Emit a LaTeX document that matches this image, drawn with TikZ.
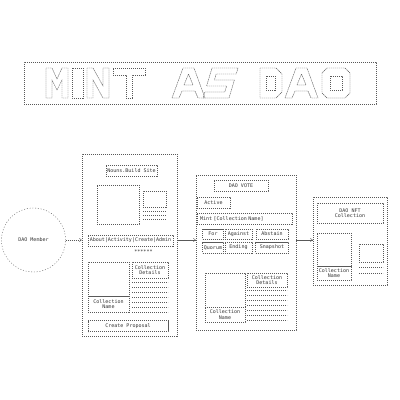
\documentclass[tikz,border=0pt]{standalone}
\usepackage{fontspec}
\newfontfamily\asciifont{DejaVu Sans Mono}
\usepackage{tikz}
\usetikzlibrary{arrows.meta}

\begin{document}
\begin{tikzpicture}[x=1pt,y=-1pt,
ascii/.style={draw=black!65,line width=0.4pt,dash pattern=on 1.4pt off 0.6pt},
box/.style 2 args={ascii,rectangle,inner sep=0pt,minimum width=#1,minimum height=#2,
  font=\asciifont\fontsize{5}{5.6}\selectfont,text=black!80,align=center},
link/.style={ascii,-{Straight Barb[length=2.2pt,width=3.5pt]}}]
\useasboundingbox (0,0) rectangle (400,400);

% title banner
\node[box={352}{42}] (banner) at (200,83) {};
\begin{scope}[shift={(46,68)}]
\draw[ascii] (0,0) -- (6,0) -- (11,11) -- (16,0) -- (22,0) -- (22,30) -- (16,30) -- (16,12)
  -- (11,22) -- (6,12) -- (6,30) -- (0,30) -- cycle;
\end{scope}
\begin{scope}[shift={(72,68)}]
\draw[ascii] (0,0) rectangle (11,30);
\end{scope}
\begin{scope}[shift={(87,68)}]
\draw[ascii] (0,0) -- (6,0) -- (16,18) -- (16,0) -- (22,0) -- (22,30) -- (16,30) -- (6,12)
  -- (6,30) -- (0,30) -- cycle;
\end{scope}
\begin{scope}[shift={(113,68)}]
\draw[ascii] (0,0) -- (32,0) -- (32,7) -- (19,7) -- (19,30) -- (13,30) -- (13,7) -- (0,7) -- cycle;
\end{scope}
\foreach \ax in {172,285}{
\begin{scope}[shift={(\ax,68)}]
\draw[ascii] (0,30) -- (11,0) -- (22,0) -- (33,30) -- (26,30) -- (23,23) -- (10,23) -- (7,30) -- cycle;
\draw[ascii] (12,17) -- (16.5,6) -- (21,17) -- cycle;
\end{scope}
}
\begin{scope}[shift={(212,68)},xslant=0.3]
\draw[ascii] (0,0) -- (26,0) -- (26,6) -- (6,6) -- (6,12) -- (26,12) -- (26,30) -- (0,30)
  -- (0,24) -- (20,24) -- (20,18) -- (0,18) -- cycle;
\end{scope}
\begin{scope}[shift={(260,68)}]
\draw[ascii] (0,0) -- (16,0) -- (22,6) -- (22,24) -- (16,30) -- (0,30) -- cycle;
\draw[ascii] (6,8) rectangle (15,22);
\end{scope}
\begin{scope}[shift={(322,68)}]
\draw[ascii] (5,0) -- (23,0) -- (28,5) -- (28,25) -- (23,30) -- (5,30) -- (0,25) -- (0,5) -- cycle;
\draw[ascii] (8,8) rectangle (20,22);
\end{scope}

% member
\node[box={64}{64},circle,dash pattern=on 1pt off 1.8pt] (member) at (33.5,240) {DAO Member};

% site
\node[box={95}{182}] (site) at (129.5,245) {};
\node[box={51}{11}] (siteurl) at (131.5,170.5) {Nouns.Build Site};
\node[box={42}{39}] (hero) at (118,204.5) {};
\node[box={23}{16}] (thumb) at (154.5,199) {};
\foreach \y in {211,215,219} \draw[ascii] (143,\y) -- (166,\y);
\node[box={85}{11}] (nav) at (130.5,240.5) {About|Activity|Create|Admin};
\node[box={0}{0},draw=none] (stars) at (143.5,251.5) {******};
\node[box={41}{34}] (siteimg) at (108.5,279) {};
\node[box={41}{16}] (sitename) at (108.5,304) {Collection\\Name};
\node[box={36}{16}] (sitedetails) at (150,270) {Collection\\Details};
\foreach \y in {282,287,...,312} \draw[ascii] (132,\y) -- (168,\y);
\node[box={80}{11}] (propose) at (128,326) {Create Proposal};

% vote
\node[box={100}{155}] (vote) at (246,252.5) {};
\node[box={54}{11}] (votetitle) at (241,185.5) {DAO VOTE};
\node[box={33}{11}] (active) at (213.5,202.5) {Active};
\node[box={95}{11},text width=89,align=left] (mint) at (244.5,218.5) {Mint [Collection Name]};
\node[box={21}{10}] (for) at (213,234) {For};
\node[box={27}{10}] (against) at (238.5,234) {Against};
\node[box={32}{10}] (abstain) at (272,234) {Abstain};
\node[box={21}{11}] (quorum) at (213,247.5) {Quorum};
\node[box={27}{11}] (ending) at (238.5,247.5) {Ending};
\node[box={33}{11}] (snapshot) at (272,247.5) {Snapshot};
\node[box={40}{34}] (voteimg) at (225,290) {};
\node[box={40}{15}] (votename) at (225,314.5) {Collection\\Name};
\node[box={40}{14}] (votedetails) at (267,280) {Collection\\Details};
\foreach \y in {290,295,...,320} \draw[ascii] (247,\y) -- (287,\y);

% nft
\node[box={74}{88}] (nft) at (350,241) {};
\node[box={66}{20}] (nfttitle) at (350,213) {DAO NFT\\Collection};
\node[box={34}{33}] (nftimg) at (334,249.5) {};
\node[box={34}{14}] (nftname) at (334,273) {Collection\\Name};
\node[box={24}{18}] (nftthumb) at (371,253) {};
\foreach \y in {267,273} \draw[ascii] (359,\y) -- (383,\y);

% flow
\draw[link] (member.east) -- (member.east -| site.west);
\draw[link] (site.east |- member.east) -- (vote.west |- member.east);
\draw[link] (vote.east |- member.east) -- (nft.west |- member.east);
\end{tikzpicture}
\end{document}
